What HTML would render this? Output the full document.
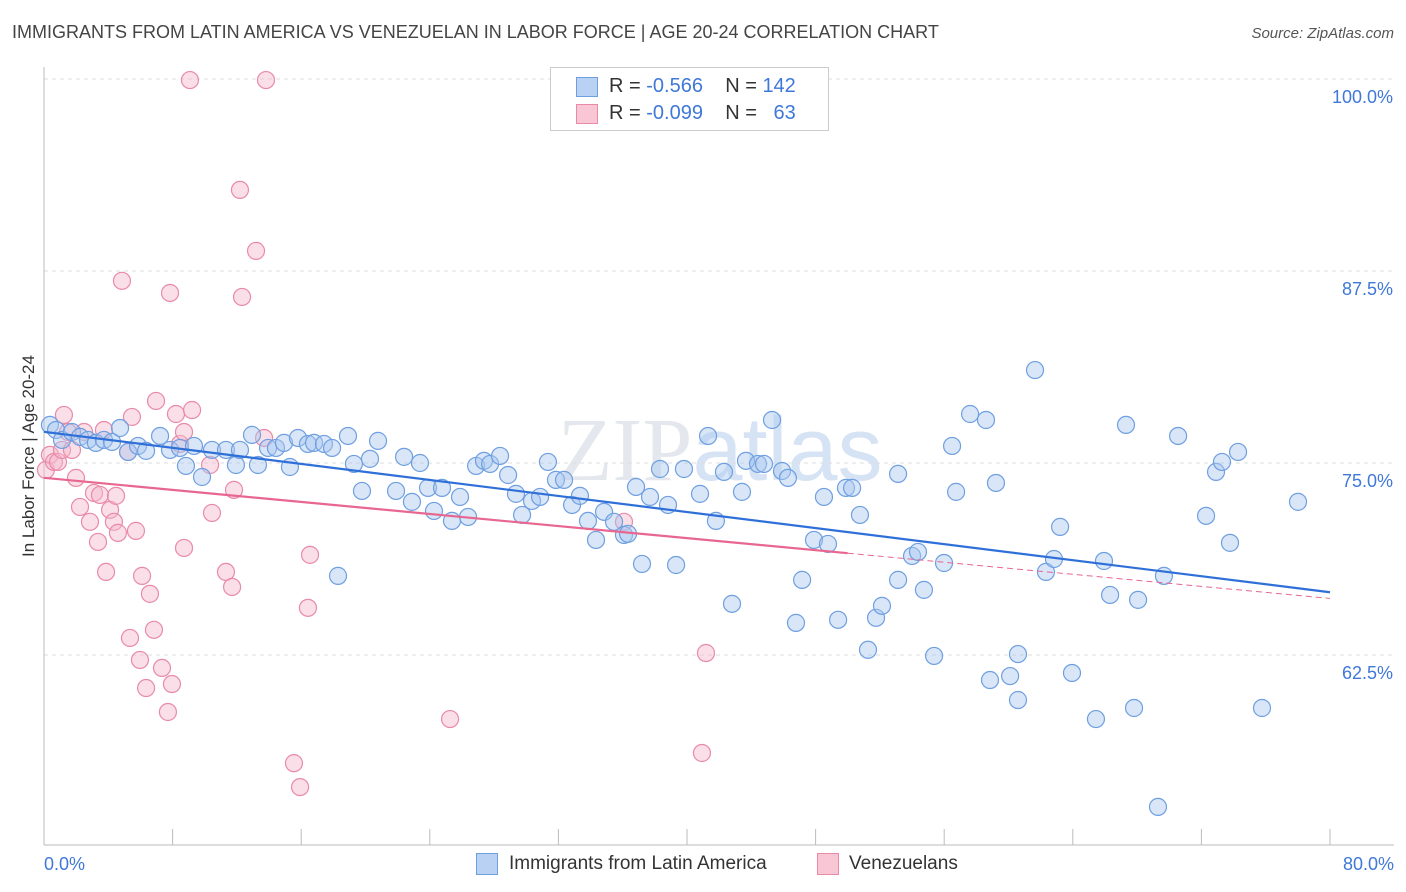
<!DOCTYPE html>
<html><head><meta charset="utf-8"><style>
body{margin:0;background:#fff;font-family:"Liberation Sans",sans-serif;}
#wrap{position:relative;width:1406px;height:892px;overflow:hidden;}
.t{position:absolute;white-space:nowrap;}
</style></head><body>
<div id="wrap">
<div class="t" style="left:12px;top:22px;font-size:18px;color:#444;">IMMIGRANTS FROM LATIN AMERICA VS VENEZUELAN IN LABOR FORCE | AGE 20-24 CORRELATION CHART</div>
<div class="t" style="right:12px;top:25px;font-size:15px;color:#555;font-style:italic;">Source: ZipAtlas.com</div>
<svg id="svg" width="1406" height="892" style="position:absolute;left:0;top:0">
<text x="720" y="480" text-anchor="middle" font-size="90" fill="#e4e8ee" font-family="Liberation Serif">ZIP<tspan fill="#d6e3f5" font-family="Liberation Sans">atlas</tspan></text>
<text transform="translate(34,456) rotate(-90)" text-anchor="middle" font-size="17" fill="#333">In Labor Force | Age 20-24</text>
<g id="grid"></g><g id="pts"></g><g id="trend"></g>
</svg>
<div style="position:absolute;left:550px;top:67px;width:277px;height:62px;border:1px solid #ccc;background:#fff;font-size:20px;color:#333;">
 <div style="position:absolute;left:25px;top:9px;width:20px;height:18px;background:#b9d2f3;border:1px solid #6f9fe0"></div>
 <div class="t" style="left:58px;top:7px">R = <span style="color:#3f78d8">-0.566</span>&nbsp;&nbsp;&nbsp; N = <span style="color:#3f78d8">142</span></div>
 <div style="position:absolute;left:25px;top:36px;width:20px;height:18px;background:#f8c6d5;border:1px solid #e98aa8"></div>
 <div class="t" style="left:58px;top:34px">R = <span style="color:#3f78d8">-0.099</span>&nbsp;&nbsp;&nbsp; N = &nbsp;&nbsp;<span style="color:#3f78d8">63</span></div>
</div>
<div style="position:absolute;left:476px;top:853px;width:20px;height:20px;background:#b9d2f3;border:1px solid #6f9fe0"></div>
<div class="t" style="left:509px;top:853px;font-size:19px;color:#333">Immigrants from Latin America</div>
<div style="position:absolute;left:817px;top:853px;width:20px;height:20px;background:#f8c6d5;border:1px solid #e98aa8"></div>
<div class="t" style="left:849px;top:853px;font-size:19px;color:#333">Venezuelans</div>
</div>
<script>
const blueX=[.37,.75,1.12,1.74,2.24,2.74,3.23,3.73,4.23,4.73,5.23,5.85,6.35,7.22,7.84,8.46,8.83,9.33,9.83,10.45,11.32,11.94,12.19,12.94,13.31,13.94,14.43,14.93,15.30,15.80,16.42,16.80,17.42,17.92,18.29,18.91,19.28,19.78,20.28,20.78,21.90,22.40,22.89,23.39,23.89,24.26,24.76,25.38,25.88,26.38,26.88,27.37,27.75,28.37,28.87,29.36,29.74,30.36,30.86,31.35,31.85,32.35,32.85,33.34,33.84,34.34,34.84,35.46,36.08,36.33,36.83,37.20,37.70,38.32,38.82,39.32,39.81,40.81,41.31,41.80,42.30,42.80,43.42,43.67,44.42,44.79,45.29,45.91,46.28,46.78,47.16,47.90,48.52,48.77,49.40,49.89,50.27,50.76,51.26,51.76,52.13,53.13,53.13,54.00,54.37,54.74,55.37,55.99,56.49,56.74,57.61,58.60,58.85,59.22,60.10,60.59,60.59,61.65,62.33,62.83,63.21,63.95,65.44,65.94,66.32,67.31,67.81,68.06,69.30,69.67,70.55,72.29,72.91,73.28,73.78,74.28,75.77,78.01];
const blueY=[77.48,77.15,76.50,77.02,76.70,76.50,76.31,76.50,76.37,77.28,75.72,76.11,75.79,76.76,75.85,75.98,74.81,76.11,74.09,75.85,75.85,74.87,75.85,76.83,74.87,75.98,75.98,76.31,74.74,76.63,76.24,76.31,76.24,75.98,67.65,76.76,74.94,73.18,75.27,76.44,73.18,75.40,72.47,75.00,73.38,71.88,73.38,71.23,72.79,71.49,74.81,75.14,74.94,75.46,74.22,72.99,71.62,72.53,72.79,75.07,73.90,73.90,72.27,72.86,71.23,69.99,71.82,71.17,70.32,70.39,73.44,68.43,72.79,74.61,72.27,68.36,74.61,72.99,76.76,71.23,74.42,65.83,73.12,75.14,74.94,74.94,77.80,74.48,74.03,64.59,67.39,69.99,72.79,69.73,64.79,73.38,73.38,71.62,62.84,64.92,65.70,74.29,67.39,68.95,69.21,66.74,62.44,68.49,76.11,73.12,78.19,77.80,60.87,73.70,61.13,62.56,59.57,81.05,67.91,68.75,70.84,61.33,58.33,68.62,66.41,77.48,59.05,66.09,52.61,67.65,76.76,71.56,74.42,75.07,69.80,75.72,59.05,72.47];
const pinkX=[.12,.37,.62,.87,1.12,1.24,1.49,1.74,1.99,2.24,2.49,2.86,3.11,3.36,3.48,3.73,3.86,4.11,4.35,4.48,4.60,4.85,5.23,5.35,5.47,5.72,5.97,6.10,6.35,6.59,6.84,6.97,7.34,7.71,7.84,7.96,8.21,8.46,8.71,8.71,9.08,9.21,10.33,10.45,11.32,11.70,11.82,12.19,12.32,13.19,13.69,13.81,15.55,15.93,16.42,16.55,25.26,36.08,36.95,41.18,40.93];
const pinkY=[74.55,75.53,75.07,75.07,75.85,78.13,77.02,75.85,74.03,72.14,77.02,71.17,73.05,69.86,72.92,77.15,67.91,71.95,71.17,72.86,70.45,86.86,75.72,63.61,78.00,70.58,62.18,67.65,60.35,66.48,64.14,79.04,61.66,58.79,86.07,60.61,78.19,76.24,77.02,69.47,99.93,78.45,74.87,71.75,67.91,66.93,73.25,92.78,85.81,88.81,76.63,99.93,55.46,53.90,65.57,69.02,58.33,71.17,99.93,62.63,56.12];
const yTicks=[100,87.5,75,62.5];
const yTickLabels=["100.0%","87.5%","75.0%","62.5%"];
const xTicks=[0,8,16,24,32,40,48,56,64,72,80];
const NS="http://www.w3.org/2000/svg";
const X=v=>44+v*(1286/80), Y=v=>79+(100-v)*15.36;
const svg=document.getElementById('svg'),grid=document.getElementById('grid'),pts=document.getElementById('pts'),tr=document.getElementById('trend');
function mk(tag,at,parent){const e=document.createElementNS(NS,tag);for(const k in at)e.setAttribute(k,at[k]);parent.appendChild(e);return e;}
yTicks.forEach((t,i)=>{
 const l=mk('line',{x1:44,x2:1394,y1:Y(t),y2:Y(t),stroke:'#ddd','stroke-dasharray':'4,4'},grid);
 
 
 const tx=mk('text',{x:1393,y:Y(t)+24,'text-anchor':'end','font-size':18,fill:'#3f78d8'},grid);
 tx.textContent=yTickLabels[i];
 
 
});
const ax=mk('line',{x1:44,x2:44,y1:67,y2:845,stroke:'#bbb'},grid);


const bx=mk('line',{x1:44,x2:1394,y1:845,y2:845,stroke:'#bbb'},grid);


xTicks.forEach(t=>{
 const l=mk('line',{x1:X(t),x2:X(t),y1:829,y2:845,stroke:'#bbb'},grid);
 
 
});
[[0,'0.0%','start',44],[80,'80.0%','end',1394]].forEach(a=>{
 const tx=mk('text',{x:a[3],y:870,'text-anchor':a[2],'font-size':18,fill:'#3f78d8'},grid);
 tx.textContent=a[1];
 
 
});
function pointsOf(xs,ys,fill,stroke,name){
 xs.forEach((x,i)=>{
  const c=mk('circle',{cx:X(x),cy:Y(ys[i]),r:8.5,fill:fill,'fill-opacity':0.45,stroke:stroke,'stroke-width':1.2},pts);
  
  
 });
}
pointsOf(pinkX,pinkY,'#f5b8cb','#e98aa8','venezuelan-point');
pointsOf(blueX,blueY,'#a9c8f0','#6f9fe0','latin-america-point');
function reg(xs,ys){const n=xs.length;let sx=0,sy=0,sxx=0,sxy=0;for(let i=0;i<n;i++){sx+=xs[i];sy+=ys[i];sxx+=xs[i]*xs[i];sxy+=xs[i]*ys[i];}const b=(n*sxy-sx*sy)/(n*sxx-sx*sx);return [b,(sy-b*sx)/n];}
const rb=reg(blueX,blueY);
let l=mk('line',{x1:X(0),y1:Y(rb[1]),x2:X(80),y2:Y(rb[1]+rb[0]*80),stroke:'#2f6fd8','stroke-width':2.2},tr);


const rp=reg(pinkX,pinkY);
l=mk('line',{x1:X(0),y1:Y(rp[1]),x2:X(50),y2:Y(rp[1]+rp[0]*50),stroke:'#e8668f','stroke-width':2.2},tr);


l=mk('line',{x1:X(50),y1:Y(rp[1]+rp[0]*50),x2:X(80),y2:Y(rp[1]+rp[0]*80),stroke:'#e8668f','stroke-width':1,'stroke-dasharray':'6,4'},tr);


</script>
</body></html>
